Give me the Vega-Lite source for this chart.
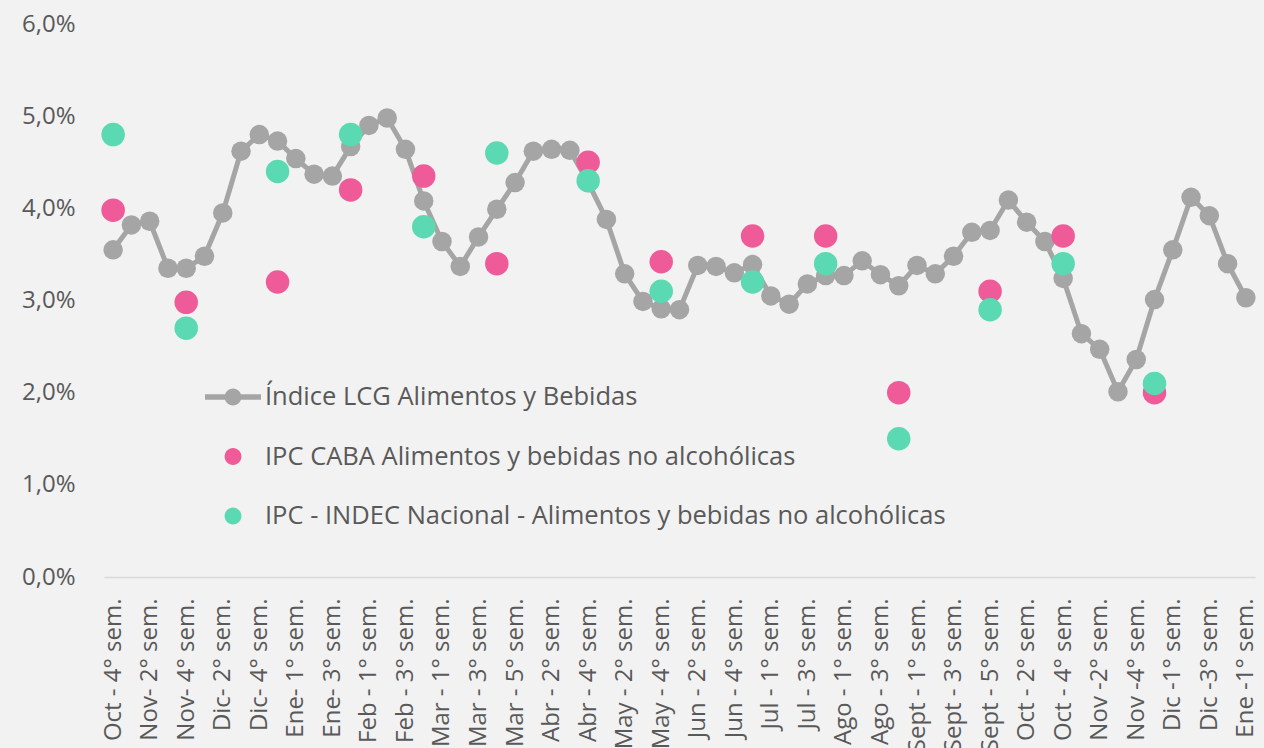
{
  "$schema": "https://vega.github.io/schema/vega-lite/v6.json",
  "width": 1151,
  "height": 553,
  "autosize": {"type": "none"},
  "padding": {"left": 104, "top": 24, "right": 9, "bottom": 171},
  "background": "#F2F2F2",
  "config": {
    "font": "Open Sans",
    "view": {"stroke": null}
  },
  "data": {
    "values": [
      {"periodo": "Oct - 4° sem.", "lcg": 0.0355, "caba": 0.0398, "indec": 0.048},
      {"periodo": "Nov- 1° sem.", "lcg": 0.0382},
      {"periodo": "Nov- 2° sem.", "lcg": 0.0386},
      {"periodo": "Nov- 3° sem.", "lcg": 0.0335},
      {"periodo": "Nov- 4° sem.", "lcg": 0.0335, "caba": 0.0298, "indec": 0.027},
      {"periodo": "Dic- 1° sem.", "lcg": 0.0348},
      {"periodo": "Dic- 2° sem.", "lcg": 0.0395},
      {"periodo": "Dic- 3° sem.", "lcg": 0.0462},
      {"periodo": "Dic- 4° sem.", "lcg": 0.048},
      {"periodo": "Dic- 5° sem.", "lcg": 0.0473, "caba": 0.032, "indec": 0.044},
      {"periodo": "Ene- 1° sem.", "lcg": 0.0454},
      {"periodo": "Ene- 2° sem.", "lcg": 0.0437},
      {"periodo": "Ene- 3° sem.", "lcg": 0.0435},
      {"periodo": "Ene- 4° sem.", "lcg": 0.0467, "caba": 0.042, "indec": 0.048},
      {"periodo": "Feb - 1° sem.", "lcg": 0.049},
      {"periodo": "Feb - 2° sem.", "lcg": 0.0498},
      {"periodo": "Feb - 3° sem.", "lcg": 0.0464},
      {"periodo": "Feb - 4° sem.", "lcg": 0.0408, "caba": 0.0435, "indec": 0.038},
      {"periodo": "Mar - 1° sem.", "lcg": 0.0364},
      {"periodo": "Mar - 2° sem.", "lcg": 0.0337},
      {"periodo": "Mar - 3° sem.", "lcg": 0.0369},
      {"periodo": "Mar - 4° sem.", "lcg": 0.0399, "caba": 0.034, "indec": 0.046},
      {"periodo": "Mar - 5° sem.", "lcg": 0.0428},
      {"periodo": "Abr - 1° sem.", "lcg": 0.0462},
      {"periodo": "Abr - 2° sem.", "lcg": 0.0464},
      {"periodo": "Abr - 3° sem.", "lcg": 0.0463},
      {"periodo": "Abr - 4° sem.", "lcg": 0.0428, "caba": 0.045, "indec": 0.043},
      {"periodo": "May - 1° sem.", "lcg": 0.0388},
      {"periodo": "May - 2° sem.", "lcg": 0.0329},
      {"periodo": "May - 3° sem.", "lcg": 0.0299},
      {"periodo": "May - 4° sem.", "lcg": 0.0291, "caba": 0.0342, "indec": 0.031},
      {"periodo": "Jun - 1° sem.", "lcg": 0.029},
      {"periodo": "Jun - 2° sem.", "lcg": 0.0338},
      {"periodo": "Jun - 3° sem.", "lcg": 0.0337},
      {"periodo": "Jun - 4° sem.", "lcg": 0.033},
      {"periodo": "Jun - 5° sem.", "lcg": 0.0339, "caba": 0.037, "indec": 0.032},
      {"periodo": "Jul - 1° sem.", "lcg": 0.0305},
      {"periodo": "Jul - 2° sem.", "lcg": 0.0296},
      {"periodo": "Jul - 3° sem.", "lcg": 0.0318},
      {"periodo": "Jul - 4° sem.", "lcg": 0.0327, "caba": 0.037, "indec": 0.034},
      {"periodo": "Ago - 1° sem.", "lcg": 0.0327},
      {"periodo": "Ago - 2° sem.", "lcg": 0.0343},
      {"periodo": "Ago - 3° sem.", "lcg": 0.0328},
      {"periodo": "Ago - 4° sem.", "lcg": 0.0316, "caba": 0.02, "indec": 0.015},
      {"periodo": "Sept - 1° sem.", "lcg": 0.0338},
      {"periodo": "Sept - 2° sem.", "lcg": 0.0329},
      {"periodo": "Sept - 3° sem.", "lcg": 0.0348},
      {"periodo": "Sept - 4° sem.", "lcg": 0.0374},
      {"periodo": "Sept - 5° sem.", "lcg": 0.0376, "caba": 0.031, "indec": 0.029},
      {"periodo": "Oct - 1° sem.", "lcg": 0.0409},
      {"periodo": "Oct - 2° sem.", "lcg": 0.0385},
      {"periodo": "Oct - 3° sem.", "lcg": 0.0364},
      {"periodo": "Oct - 4° sem. ", "lcg": 0.0324, "caba": 0.037, "indec": 0.034},
      {"periodo": "Nov -1° sem.", "lcg": 0.0264},
      {"periodo": "Nov -2° sem.", "lcg": 0.0247},
      {"periodo": "Nov -3° sem.", "lcg": 0.0201},
      {"periodo": "Nov -4° sem.", "lcg": 0.0236},
      {"periodo": "Nov -5° sem.", "lcg": 0.0301, "caba": 0.02, "indec": 0.021},
      {"periodo": "Dic -1° sem.", "lcg": 0.0355},
      {"periodo": "Dic -2° sem.", "lcg": 0.0412},
      {"periodo": "Dic -3° sem.", "lcg": 0.0392},
      {"periodo": "Dic -4° sem.", "lcg": 0.034},
      {"periodo": "Ene -1° sem.", "lcg": 0.0303}
    ]
  },
  "encoding": {
    "x": {
      "field": "periodo",
      "type": "ordinal",
      "sort": null,
      "scale": {"type": "point", "padding": 0.5},
      "axis": {
        "title": null,
        "labelAngle": -90,
        "labelPadding": 21,
        "labelFontSize": 24,
        "labelColor": "#595959",
        "labelOverlap": false,
        "labelBound": false,
        "labelFlush": false,
        "labelLimit": 0,
        "ticks": false,
        "tickSize": 0,
        "domainColor": "#D9D9D9",
        "domainWidth": 1.5,
        "grid": false,
        "labelExpr": "indexof(domain('x'), datum.value) % 2 ? '' : trim(datum.value)"
      }
    }
  },
  "layer": [
    {
      "mark": {
        "type": "line",
        "strokeWidth": 5,
        "point": {"filled": true, "size": 380, "opacity": 1}
      },
      "encoding": {
        "y": {
          "field": "lcg",
          "type": "quantitative",
          "scale": {"domain": [0, 0.06], "nice": false, "zero": true},
          "axis": {
            "title": null,
            "values": [0, 0.01, 0.02, 0.03, 0.04, 0.05, 0.06],
            "labelExpr": "replace(format(datum.value, '.1%'), '.', ',')",
            "labelFontSize": 24,
            "labelColor": "#595959",
            "labelPadding": 29,
            "ticks": false,
            "tickSize": 0,
            "domain": false,
            "grid": false
          }
        },
        "color": {
          "datum": "Índice LCG Alimentos y Bebidas",
          "type": "nominal",
          "scale": {
            "domain": ["Índice LCG Alimentos y Bebidas", "IPC CABA Alimentos y bebidas no alcohólicas", "IPC - INDEC Nacional - Alimentos y bebidas no alcohólicas"],
            "range": ["#A5A5A5", "#EF5B98", "#5AD9B2"]
          },
          "legend": {
            "orient": "none",
            "legendX": 101,
            "legendY": 345,
            "title": null,
            "padding": 0,
            "symbolSize": 3136,
            "rowPadding": 17.5,
            "labelOffset": 4,
            "labelFontSize": 25.5,
            "labelColor": "#595959",
            "labelLimit": 0,
            "encode": {
              "symbols": {
                "update": {
                  "shape": {"signal": "datum.value === 'Índice LCG Alimentos y Bebidas' ? 'M-1,-0.1H1V0.1H-1Z M0.3,0A0.3,0.3 0 1 1 -0.3,0A0.3,0.3 0 1 1 0.3,0Z' : 'M0.3,0A0.3,0.3 0 1 1 -0.3,0A0.3,0.3 0 1 1 0.3,0Z'"},
                  "fill": {"scale": "color", "field": "value"},
                  "stroke": {"value": "transparent"},
                  "strokeWidth": {"value": 0},
                  "opacity": {"value": 1},
                  "fillOpacity": {"value": 1}
                }
              }
            }
          }
        }
      }
    },
    {
      "mark": {"type": "point", "filled": true, "size": 552, "opacity": 1},
      "encoding": {
        "y": {"field": "caba", "type": "quantitative"},
        "color": {"datum": "IPC CABA Alimentos y bebidas no alcohólicas", "type": "nominal"}
      }
    },
    {
      "mark": {"type": "point", "filled": true, "size": 552, "opacity": 1},
      "encoding": {
        "y": {"field": "indec", "type": "quantitative"},
        "color": {"datum": "IPC - INDEC Nacional - Alimentos y bebidas no alcohólicas", "type": "nominal"}
      }
    }
  ]
}
